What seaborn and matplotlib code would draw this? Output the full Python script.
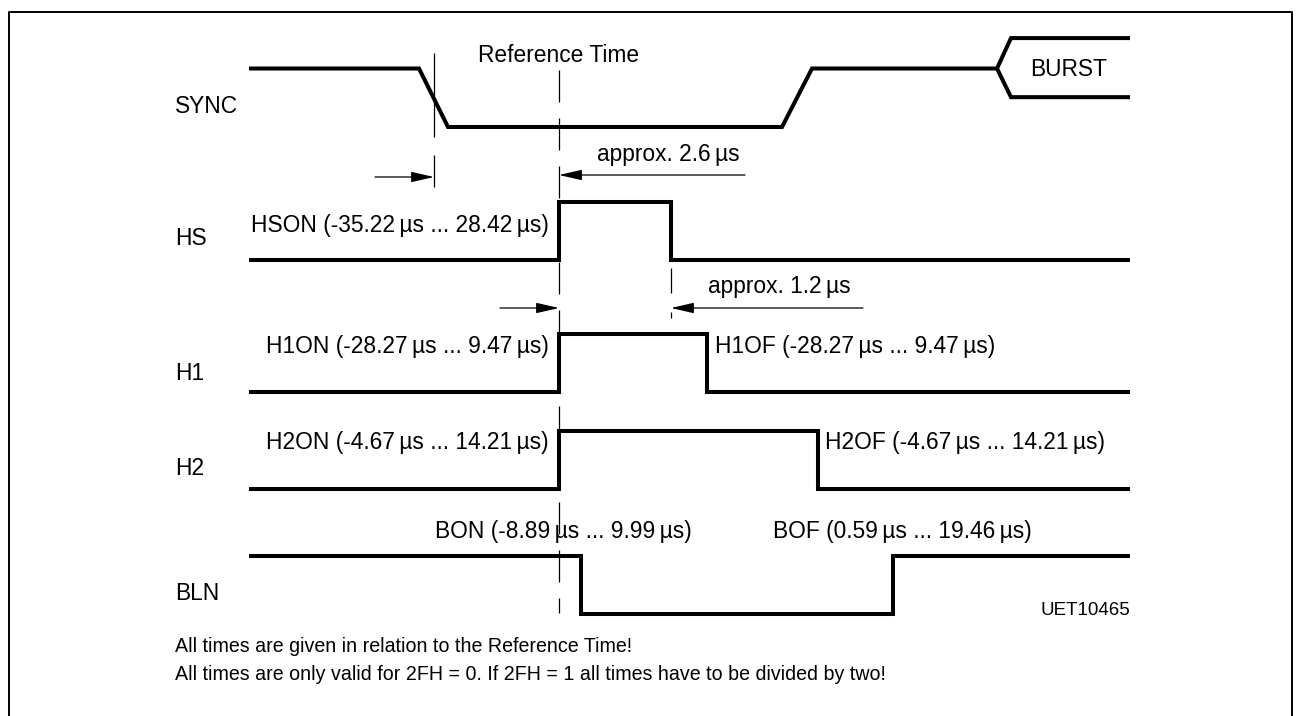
#!/bin/python3

"""
Horizontal timing diagram (SYNC / HS / H1 / H2 / BLN) relative to the reference time.
Drawn on one axes whose units are the diagram's own x/y grid.
"""

import pandas as pd
import seaborn as sns
import matplotlib.pyplot as plt
from matplotlib import font_manager

# ---- waveform data -------------------------------------------------------
signals = ["SYNC", "HS", "H1", "H2", "BLN"]
t_start, t_end = 249, 1130

# SYNC has sloped edges, so it keeps its own breakpoints
sync_t = [249, 419, 448, 782, 812, 997]
sync_level = [1, 1, 0, 0, 1, 1]
burst_t = [1130, 1011, 997, 1011, 1130]
burst_level = [1.52, 1.52, 1, 0.51, 0.51]

# square signals: level before first edge, then edge times
hs_edges = [559, 671]
h1_edges = [559, 707]
h2_edges = [559, 818]
bln_edges = [581, 893]
square_start = {"HS": 0, "H1": 0, "H2": 0, "BLN": 1}

on_labels = ["HSON (-35.22\u2009µs ... 28.42\u2009µs)",
             "H1ON (-28.27\u2009µs ... 9.47\u2009µs)",
             "H2ON (-4.67\u2009µs ... 14.21\u2009µs)"]
off_labels = ["H1OF (-28.27\u2009µs ... 9.47\u2009µs)",
              "H2OF (-4.67\u2009µs ... 14.21\u2009µs)"]
bln_labels = ["BON (-8.89\u2009µs ... 9.99\u2009µs)",
              "BOF (0.59\u2009µs ... 19.46\u2009µs)"]
notes = ["All times are given in relation to the Reference Time!",
         "All times are only valid for 2FH = 0. If 2FH = 1 all times have to be divided by two!"]

# ---- layout ----------------------------------------------------------------
row_low = {"SYNC": 127, "HS": 260, "H1": 392, "H2": 489, "BLN": 614}
swing = 58.5
label_base = {"SYNC": 113, "HS": 245, "H1": 380, "H2": 475, "BLN": 600}

installed = {f.name for f in font_manager.fontManager.ttflist}
if "Liberation Sans Narrow" in installed:
    family, squeeze = "Liberation Sans Narrow", 1.0
else:
    family, squeeze = "Liberation Sans", 0.82
plt.rcParams['font.family'] = [family, 'DejaVu Sans']
plt.rcParams['lines.scale_dashes'] = False
FS = 20 * squeeze


def square_wave(edges, level0):
    ts, lv = [t_start], [level0]
    level = level0
    for e in edges:
        ts += [e, e]
        lv += [level, 1 - level]
        level = 1 - level
    ts.append(t_end)
    lv.append(level)
    return ts, lv


rows = []
def add(name, seg, ts, lv):
    for t, l in zip(ts, lv):
        rows.append({"t": t, "y": row_low[name] - l * swing, "seg": seg})

add("SYNC", "sync", sync_t, sync_level)
add("SYNC", "burst", burst_t, burst_level)
for name, edges in zip(["HS", "H1", "H2", "BLN"], [hs_edges, h1_edges, h2_edges, bln_edges]):
    ts, lv = square_wave(edges, square_start[name])
    add(name, name, ts, lv)
df = pd.DataFrame(rows)

fig = plt.figure(figsize=(13, 7.16), dpi=100)
ax = fig.add_axes([0, 0, 1, 1])
sns.lineplot(data=df, x="t", y="y", units="seg", estimator=None, sort=False,
             color="black", lw=2.9, solid_joinstyle="miter", solid_capstyle="butt", ax=ax)
ax.set_xlim(0, 1300)
ax.set_ylim(716, 0)
ax.axis("off")

# frame (open at the bottom edge of the picture)
ax.plot([9, 9, 1292, 1292], [720, 12, 12, 720], color="black", lw=1.4)

# guide lines: x, y0, y1, dash pattern in px
guides = [(434, 53, 187, (84, 18)),
          (559, 70, 613, (32, 16)),
          (671, 268, 318, (25, 19))]
for gx, y0, y1, dash in guides:
    ax.plot([gx, gx], [y0, y1], color="black", lw=0.9,
            linestyle=(0, tuple(d * 0.72 for d in dash)))

# dimension arrows: tail x, head x, y
arrows = [(375, 434, 177), (745, 559, 175), (500, 559, 308), (863, 671, 308)]
for x0, x1, y in arrows:
    ax.annotate("", xy=(x1, y), xytext=(x0, y),
                arrowprops=dict(arrowstyle="-|>,head_length=14,head_width=3.2",
                                mutation_scale=1, lw=0.9, color="black",
                                shrinkA=0, shrinkB=0))

txt = dict(fontsize=FS, color="black", va="baseline")
for name in signals:
    ax.text(175, label_base[name], name, ha="left", **txt)
ax.text(559, 62, "Reference Time", ha="center", **txt)
ax.text(597, 161, "approx. 2.6\u2009µs", ha="left", **txt)
ax.text(708, 293, "approx. 1.2\u2009µs", ha="left", **txt)
for lab, y in zip(on_labels, [232, 353, 449]):
    ax.text(549, y, lab, ha="right", **txt)
for lab, x, y in zip(off_labels, [715, 825], [353, 449]):
    ax.text(x, y, lab, ha="left", **txt)
ax.text(435, 538, bln_labels[0], ha="left", **txt)
ax.text(773, 538, bln_labels[1], ha="left", **txt)
ax.text(1130, 615, "UET10465", ha="right", va="baseline", fontsize=16.5 * squeeze)
ax.text(1069, 76, "BURST", ha="center", **txt)
for note, y in zip(notes, [652, 680]):
    ax.text(175, y, note, ha="left", va="baseline", fontsize=17.3 * squeeze)

fig.savefig("out.png", dpi=100)
